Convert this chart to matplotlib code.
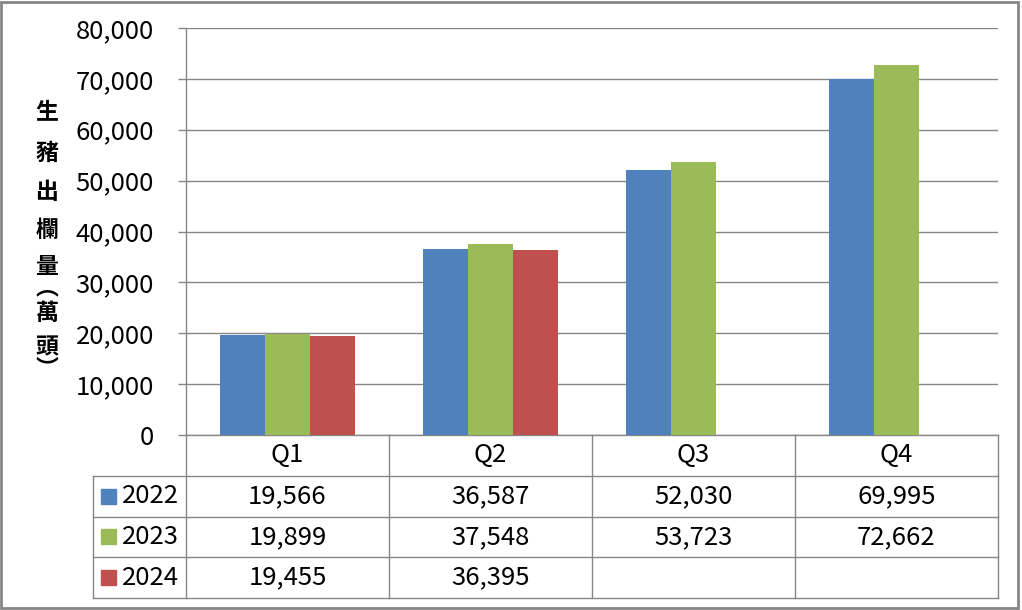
import matplotlib
matplotlib.use("Agg")
import matplotlib.pyplot as plt
from matplotlib.patches import Rectangle
import numpy as np

# data
quarters = ["Q1", "Q2", "Q3", "Q4"]
years = ["2022", "2023", "2024"]
v2022 = [19566, 36587, 52030, 69995]
v2023 = [19899, 37548, 53723, 72662]
v2024 = [19455, 36395, None, None]
colors = ["#4F81BD", "#9BBB59", "#C0504D"]
# vertical axis title, split into stacked pieces
ylabel_parts = ["生", "豬", "出", "欄", "量\n︵", "萬", "頭\n︶"]
yticks = list(range(0, 80001, 10000))

W, H = 1022, 610
GRID = "#868686"
FS = 18.5

plt.rcParams["font.family"] = ["Noto Sans CJK TC", "DejaVu Sans"]


def px(x0, y0, x1, y1):
    # pixel box (from top-left) -> figure fraction rect
    return [x0 / W, 1 - y1 / H, (x1 - x0) / W, (y1 - y0) / H]


fig = plt.figure(figsize=(W / 100, H / 100), dpi=100)

# ---------------------------------------------------------------------------
# bars
# ---------------------------------------------------------------------------
ax = fig.add_axes(px(186, 28, 998, 435))
series = [v2022, v2023, v2024]
n = len(series)
bw = 1 / (n + 1.5)
x = np.arange(len(quarters))
for i, (vals, c) in enumerate(zip(series, colors)):
    ys = [np.nan if v is None else v for v in vals]
    ax.bar(x + (i - (n - 1) / 2) * bw, ys, width=bw, color=c, zorder=3)

ax.set_xlim(-0.5, len(quarters) - 0.5)
ax.set_ylim(0, 80000)
ax.set_yticks(yticks)
ax.yaxis.set_major_formatter(lambda v, p: f"{int(v):,}")
ax.set_xticks([])
ax.grid(axis="y", color=GRID, linewidth=1, zorder=0)
for s in ["top", "right"]:
    ax.spines[s].set_visible(False)
for s in ["left", "bottom"]:
    ax.spines[s].set_color(GRID)
    ax.spines[s].set_linewidth(1)
ax.tick_params(axis="y", length=6, color=GRID, width=1, labelsize=FS, pad=17)

ylabel_y = [113, 153, 192, 230, 277.5, 314, 358.5]
for part, yy in zip(ylabel_parts, ylabel_y):
    fig.text(47 / W, 1 - yy / H, part, ha="center", va="center",
             fontsize=16.5, fontweight="bold", linespacing=0.85)

# ---------------------------------------------------------------------------
# data table
# ---------------------------------------------------------------------------
col_px = 203
xl = -0.5 - (186 - 93) / col_px
tax = fig.add_axes(px(93, 435, 998, 598))
tax.set_xlim(xl, len(quarters) - 0.5)
tax.set_ylim(len(years) + 1, 0)
tax.axis("off")
row_px = (598 - 435) / (len(years) + 1)

kw = dict(color=GRID, linewidth=1, clip_on=False)
for b in np.arange(len(quarters) + 1) - 0.5:
    tax.plot([b, b], [0, len(years) + 1], **kw)
tax.plot([xl, xl], [1, len(years) + 1], **kw)
for r in range(1, len(years) + 2):
    tax.plot([xl, len(quarters) - 0.5], [r, r], **kw)

for j, q in enumerate(quarters):
    tax.text(j, 0.5, q, ha="center", va="center", fontsize=FS)

sq_w = 15 / col_px
sq_h = 15 / row_px
for r, (yr, vals, c) in enumerate(zip(years, series, colors)):
    yc = r + 1.5
    tax.add_patch(Rectangle((xl + 8 / col_px, yc - sq_h / 2), sq_w, sq_h,
                            color=c, clip_on=False))
    tax.text(xl + 29 / col_px, yc, yr, ha="left", va="center", fontsize=FS)
    for j, v in enumerate(vals):
        if v is not None:
            tax.text(j, yc, f"{v:,}", ha="center", va="center", fontsize=FS)

# outer chart border
fig.add_artist(Rectangle((1 / W, 2 / H), 1017 / W, 606 / H,
                         transform=fig.transFigure, fill=False,
                         edgecolor=GRID, linewidth=2))

fig.savefig("out.png", dpi=100)
